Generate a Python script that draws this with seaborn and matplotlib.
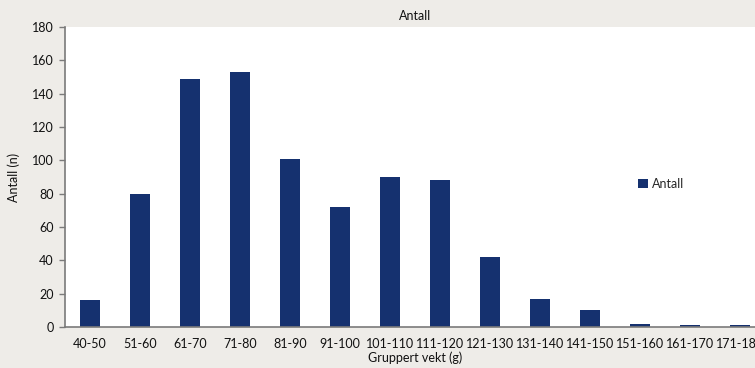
import matplotlib
matplotlib.use("Agg")
import matplotlib.pyplot as plt
import seaborn as sns
import numpy as np
import pandas as pd

categories = ["40-50", "51-60", "61-70", "71-80", "81-90", "91-100", "101-110",
              "111-120", "121-130", "131-140", "141-150", "151-160", "161-170", "171-180"]
counts = [16, 80, 149, 153, 101, 72, 90, 88, 42, 17, 10, 2, 1, 1]
y_ticks = [0, 20, 40, 60, 80, 100, 120, 140, 160, 180]

sns.set_theme(style="white")
plt.rcParams["font.family"] = ["Lato", "DejaVu Sans"]

bg = "#eeece8"
bar_color = "#15316f"
axis_color = "#7a7a7a"
fs = 9

df = pd.DataFrame({"vekt": categories, "antall": counts})

fig = plt.figure(figsize=(7.55, 3.68), dpi=100, facecolor=bg)
ax = fig.add_axes([65 / 755, 41 / 368, 700 / 755, 300 / 368])
ax.set_facecolor("white")

sns.barplot(data=df, x="vekt", y="antall", color=bar_color, width=0.4,
            saturation=1, label="Antall", ax=ax, edgecolor="none")

ax.set_xlim(-0.5, len(categories) - 0.5)
ax.set_ylim(0, 180)
ax.set_yticks(y_ticks)
ax.set_yticklabels([str(v) for v in y_ticks], fontsize=fs, color="#111111")
ax.set_xticks(range(len(categories)))
ax.set_xticklabels(categories, fontsize=fs, color="#111111")
ax.set_xticks(np.arange(len(categories) + 1) - 0.5, minor=True)
ax.tick_params(axis="x", which="major", length=0, pad=8)
ax.tick_params(axis="x", which="minor", length=4, width=1, color=axis_color, direction="out")
ax.tick_params(axis="y", length=4, width=1, color=axis_color, direction="out", pad=4, left=True)

for side in ["top", "right"]:
    ax.spines[side].set_visible(False)
for side in ["left", "bottom"]:
    ax.spines[side].set_color(axis_color)
    ax.spines[side].set_linewidth(1.2)

ax.set_title("Antall", fontsize=fs, color="#111111", pad=5)
ax.set_xlabel("Gruppert vekt (g)", fontsize=fs, color="#111111", labelpad=1)
ax.set_ylabel("Antall (n)", fontsize=fs, color="#111111", labelpad=9)

leg = ax.legend(loc="upper left", frameon=False, fontsize=fs,
                handlelength=0.8, handleheight=0.8, handletextpad=0.35, borderaxespad=0)
leg.set_bbox_to_anchor((633 / 755, 195 / 368), transform=fig.transFigure)

fig.savefig("out.png", dpi=100, facecolor=bg)
